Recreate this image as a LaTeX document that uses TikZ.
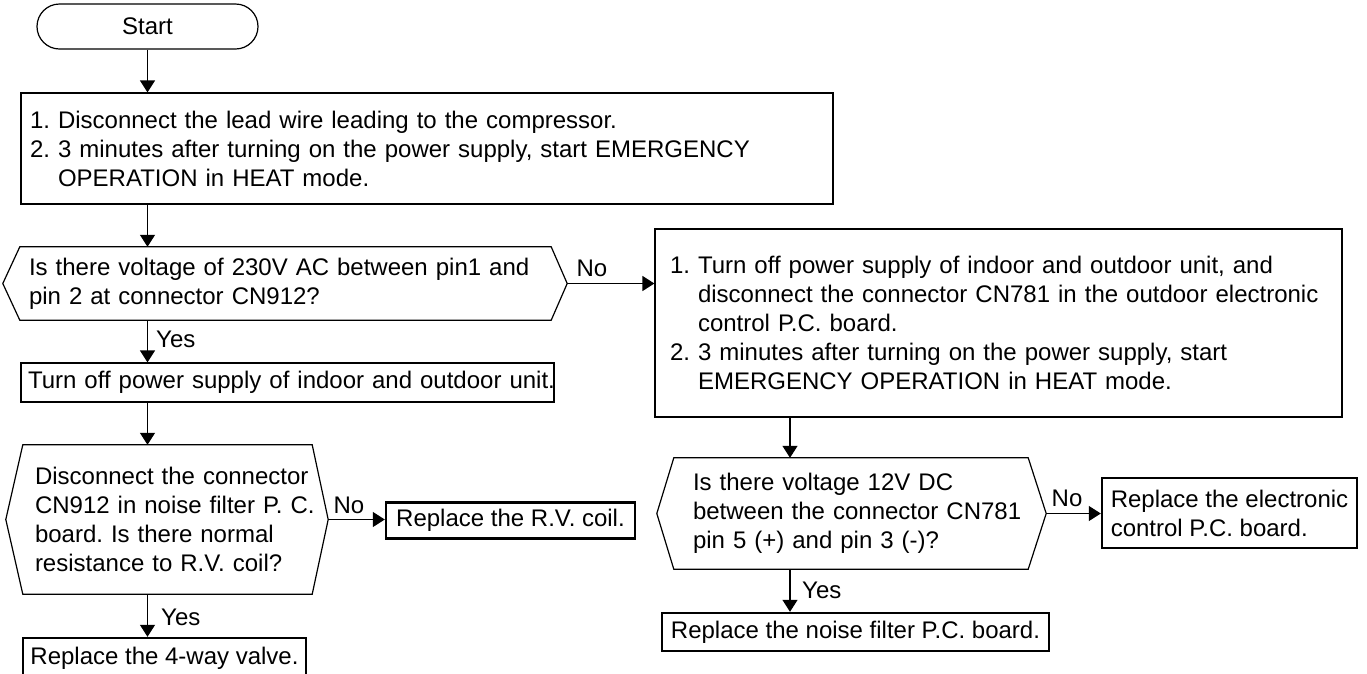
\documentclass[tikz,border=0pt]{standalone}
\usepackage{fontspec}
\setmainfont{Liberation Sans}
\usetikzlibrary{arrows.meta,calc}
\tikzset{
  txt/.style={font=\fontsize{24}{29}\selectfont\frenchspacing},
  proc/.style={txt, draw, line width=1.2pt, rectangle, inner ysep=0pt, align=left},
  endbox/.style={txt, draw, line width=2.4pt, rectangle, inner sep=0pt, align=center},
  dec/.style={txt, rectangle, inner ysep=0pt, align=left},
  decline/.style={line width=1.2pt, line join=miter},
  arr/.style={line width=1.2pt, -{Triangle[length=12pt,width=15pt]}},
  lbl/.style={txt, inner sep=0pt}
}
\newcommand{\hang}{\phantom{1.\ }}
\newcommand{\oneline}[1]{\mbox{#1}}
\begin{document}
\begin{tikzpicture}[x=1pt,y=-1pt]
\useasboundingbox (0,0) rectangle (1367,673);

% Start
\node[txt, draw, line width=1.2pt, rounded corners=22.5pt, minimum width=221pt, minimum height=45pt, inner sep=0pt] (st) at (147.5,26.5) {Start};

% Box 1
\node[proc, minimum width=812pt, minimum height=111pt, inner xsep=9pt, text width=794pt] (b1) at (427,148.5)
 {\oneline{1. Disconnect the lead wire leading to the compressor.}\\
  \oneline{2. 3 minutes after turning on the power supply, start EMERGENCY}\\
  \oneline{\hang OPERATION in HEAT mode.}};

% Decision 1
\node[dec, minimum width=531pt, minimum height=73pt, inner xsep=9pt, text width=513pt] (d1) at (285.5,283.5)
 {\oneline{Is there voltage of 230V AC between pin1 and}\\
  \oneline{pin 2 at connector CN912?}};
\coordinate (d1r) at ($(d1.east)+(16pt,0)$);
\coordinate (d1l) at ($(d1.west)+(-17pt,0)$);
\draw[decline] (d1.north west) -- (d1.north east) -- (d1r) -- (d1.south east) -- (d1.south west) -- (d1l) -- cycle;

% Right box
\node[proc, minimum width=687pt, minimum height=188pt, inner xsep=15pt, text width=657pt] (rb) at (998.5,323)
 {\oneline{1. Turn off power supply of indoor and outdoor unit, and}\\
  \oneline{\hang disconnect the connector CN781 in the outdoor electronic}\\
  \oneline{\hang control P.C. board.}\\
  \oneline{2. 3 minutes after turning on the power supply, start}\\
  \oneline{\hang EMERGENCY OPERATION in HEAT mode.}};

% Turn off box
\node[proc, minimum width=533pt, minimum height=39pt, inner xsep=7pt, text width=519pt] (tb) at (287.5,382.5)
 {\oneline{Turn off power supply of indoor and outdoor unit.}};

% Decision 2
\node[dec, minimum width=289pt, minimum height=149pt, inner xsep=12pt, text width=265pt] (d2) at (167.5,519.5)
 {\oneline{Disconnect the connector}\\
  \oneline{CN912 in noise filter P. C.}\\
  \oneline{board. Is there normal}\\
  \oneline{resistance to R.V. coil?}};
\coordinate (d2r) at ($(d2.east)+(16pt,0)$);
\coordinate (d2l) at ($(d2.west)+(-17pt,0)$);
\draw[decline] (d2.north west) -- (d2.north east) -- (d2r) -- (d2.south east) -- (d2.south west) -- (d2l) -- cycle;

% R.V. coil box
\node[endbox, minimum width=249pt, minimum height=36pt] (rv) at (510.5,520.5) {Replace the R.V. coil.};

% 4-way valve box
\node[endbox, minimum width=283pt, minimum height=40pt] (vv) at (164.5,658) {Replace the 4-way valve.};

% Decision 3
\node[dec, minimum width=354pt, minimum height=111pt, inner xsep=19pt, text width=316pt] (d3) at (851,513.5)
 {\oneline{Is there voltage 12V DC}\\
  \oneline{between the connector CN781}\\
  \oneline{pin 5 (+) and pin 3 (-)?}};
\coordinate (d3r) at ($(d3.east)+(18pt,0)$);
\coordinate (d3l) at ($(d3.west)+(-17pt,0)$);
\draw[decline] (d3.north west) -- (d3.north east) -- (d3r) -- (d3.south east) -- (d3.south west) -- (d3l) -- cycle;

% Electronic box
\node[endbox, minimum width=255pt, minimum height=70pt, align=left] (eb) at (1229.5,513)
 {Replace the electronic\\control P.C. board.};

% Noise filter box
\node[endbox, minimum width=387pt, minimum height=38pt] (nb) at (855.5,632) {Replace the noise filter P.C. board.};

% columns
\coordinate (rc) at (790,0);

% Connectors
\draw[arr] (st.south) -- (st.south |- b1.north);
\draw[arr] (st.south |- b1.south) -- (st.south |- d1.north);
\draw[arr] (d1r) -- (d1r -| rb.west);
\draw[arr] (st.south |- d1.south) -- (st.south |- tb.north);
\draw[arr] (st.south |- tb.south) -- (st.south |- d2.north);
\draw[arr] (d2r) -- (d2r -| rv.west);
\draw[arr] (st.south |- d2.south) -- (st.south |- vv.north);
\draw[arr] (rc |- rb.south) -- (rc |- d3.north);
\draw[arr] (d3r) -- (d3r -| eb.west);
\draw[arr] (rc |- d3.south) -- (rc |- nb.north);

% Labels
\node[lbl] (no1) at (592,268) {No};
\node[lbl, anchor=west] (yes1) at (156,339) {Yes};
\node[lbl] (no2) at (349,505) {No};
\node[lbl, anchor=west] (yes2) at (161,617) {Yes};
\node[lbl] (no3) at (1067,498) {No};
\node[lbl, anchor=west] (yes3) at (802,590) {Yes};
\end{tikzpicture}
\end{document}
